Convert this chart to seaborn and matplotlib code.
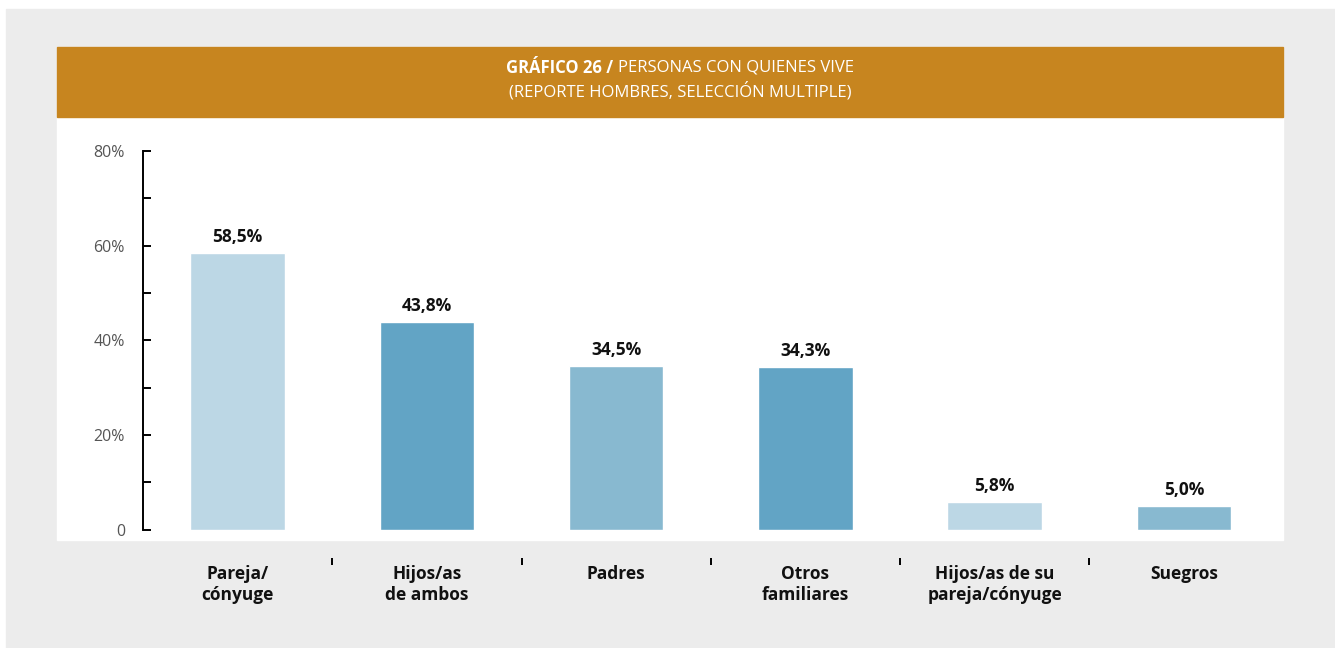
import matplotlib
matplotlib.use("Agg")
import matplotlib.pyplot as plt
import seaborn as sns
import pandas as pd
from matplotlib.patches import Rectangle

categories = ["Pareja/\ncónyuge", "Hijos/as\nde ambos", "Padres", "Otros\nfamiliares",
              "Hijos/as de su\npareja/cónyuge", "Suegros"]
values = [58.5, 43.8, 34.5, 34.3, 5.8, 5.0]
value_labels = ["58,5%", "43,8%", "34,5%", "34,3%", "5,8%", "5,0%"]
bar_colors = ["#bcd7e5", "#62a4c5", "#88b9d0", "#62a4c5", "#bcd7e5", "#88b9d0"]
y_ticks = [0, 20, 40, 60, 80]
y_ticklabels = ["0", "20%", "40%", "60%", "80%"]
title_bold = "GRÁFICO 26 / "
title_rest = "PERSONAS CON QUIENES VIVE"
subtitle = "(REPORTE HOMBRES, SELECCIÓN MULTIPLE)"

sns.set_style("white")
plt.rcParams["font.family"] = ["Open Sans", "DejaVu Sans"]

W, H = 1335, 648
fig = plt.figure(figsize=(W / 100, H / 100), dpi=100)
fig.patch.set_facecolor("white")

# background panels (pixel coords -> figure fraction)
def px_rect(x0, y0, x1, y1, color):
    fig.patches.append(Rectangle((x0 / W, 1 - y1 / H), (x1 - x0) / W, (y1 - y0) / H,
                                 transform=fig.transFigure, color=color, zorder=-10))

px_rect(6, 9, 1335, 648, "#ececec")
px_rect(57, 47, 1283, 540, "white")
px_rect(57, 47, 1283, 117, "#c7851f")

ax = fig.add_axes([143 / W, 1 - 529.5 / H, (1278.5 - 143) / W, (529.5 - 151) / H])
ax.set_facecolor("none")

df = pd.DataFrame({"cat": categories, "val": values})
sns.barplot(data=df, x="cat", y="val", hue="cat", palette=bar_colors, legend=False,
            width=0.5, saturation=1, ax=ax)

# spines first (moving a spine resets the ticks)
for s in ["top", "right"]:
    ax.spines[s].set_visible(False)
ax.spines["left"].set_linewidth(1.4)
ax.spines["left"].set_color("black")
ax.spines["bottom"].set_position(("outward", 20.5))
ax.spines["bottom"].set_visible(False)

ax.set_xlim(-0.5, 5.5)
ax.set_ylim(0, 80)
ax.set_xlabel("")
ax.set_ylabel("")

for i, (v, lab) in enumerate(zip(values, value_labels)):
    ax.annotate(lab, (i, v), xytext=(0, 5), textcoords="offset points",
                ha="center", va="bottom", fontsize=12.5, fontweight="bold", color="#111111")

# y axis
ax.set_yticks(y_ticks)
ax.set_yticklabels(y_ticklabels)
ax.set_yticks([10, 30, 50, 70], minor=True)
ax.tick_params(axis="y", which="both", direction="in", length=5.5, width=1.4,
               color="black", left=True, labelsize=11.5, labelcolor="#555555", pad=13)

# x axis: labels and separators below the panel
ax.set_xticks(range(len(categories)))
ax.set_xticks([0.5, 1.5, 2.5, 3.5, 4.5], minor=True)
ax.tick_params(axis="x", which="major", length=0, pad=5)
ax.tick_params(axis="x", which="minor", direction="out", length=5, width=1.4,
               color="black", bottom=True)
ax.set_xticklabels(categories, fontsize=12.5, fontweight="bold", color="#111111",
                   linespacing=1.2)

# header title, bold part + regular part centered together
renderer = fig.canvas.get_renderer()
cx = 680 / W
y1 = 1 - 68 / H
t1 = fig.text(0, y1, title_bold, fontsize=12, fontweight="bold", color="white",
              ha="left", va="center")
t2 = fig.text(0, y1, title_rest, fontsize=12, color="white", ha="left", va="center")
w1 = t1.get_window_extent(renderer).width / W
w2 = t2.get_window_extent(renderer).width / W
start = cx - (w1 + w2) / 2
t1.set_x(start)
t2.set_x(start + w1)
fig.text(cx, 1 - 91 / H, subtitle, fontsize=12, color="white", ha="center", va="center")

fig.savefig("out.png", dpi=100)
